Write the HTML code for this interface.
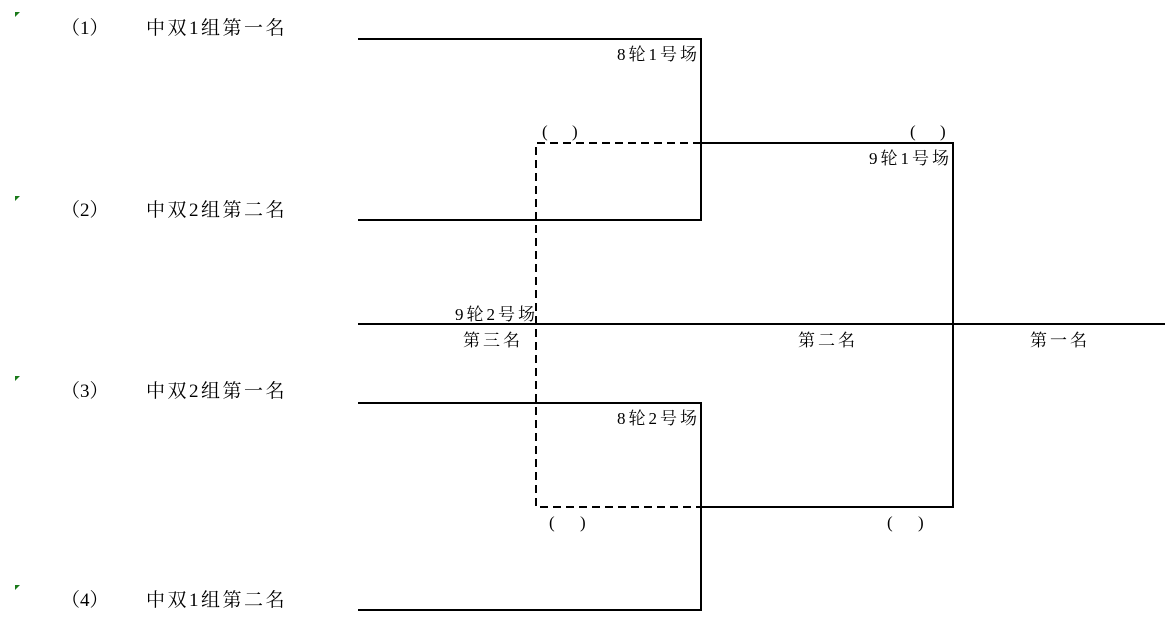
<!DOCTYPE html>
<html><head><meta charset="utf-8"><style>
html,body{margin:0;padding:0;background:#fff;}
svg text{font-family:"Liberation Serif","Noto Serif CJK SC",serif;fill:#000;}
.b{letter-spacing:2.5px;}
.s{letter-spacing:3px;}
</style></head><body>
<svg width="1165" height="624" xmlns="http://www.w3.org/2000/svg">
<g stroke="#000" stroke-width="2" fill="none">
<path d="M358 39H701V220H358"/>
<path d="M701 143H953V507H701"/>
<path d="M358 403H701V610H358"/>
<path d="M358 324H1165"/>
<path d="M701 143H536V507H701" stroke-dasharray="8,5"/>
</g>
<g fill="#1a7a1a">
<path d="M15 12h5l-5 5z"/><path d="M15 196h5l-5 5z"/><path d="M15 376h5l-5 5z"/><path d="M15 585h5l-5 5z"/>
</g>
<g font-size="19">
<text x="61" y="34">（1）</text><text class="b" x="146" y="34">中双1组第一名</text>
<text x="61" y="216">（2）</text><text class="b" x="146" y="216">中双2组第二名</text>
<text x="61" y="397">（3）</text><text class="b" x="146" y="397">中双2组第一名</text>
<text x="61" y="606">（4）</text><text class="b" x="146" y="606">中双1组第二名</text>
</g>
<g font-size="17">
<text class="s" x="700" y="60" text-anchor="end">8轮1号场</text>
<text class="s" x="952" y="164" text-anchor="end">9轮1号场</text>
<text class="s" x="700" y="424" text-anchor="end">8轮2号场</text>
<text class="s" x="455" y="320">9轮2号场</text>
<text class="s" x="463" y="346">第三名</text>
<text class="s" x="798" y="346">第二名</text>
<text class="s" x="1030" y="346">第一名</text>
<text x="542" y="137">(</text><text x="572" y="137">)</text>
<text x="910" y="137">(</text><text x="940" y="137">)</text>
<text x="549" y="528">(</text><text x="580" y="528">)</text>
<text x="887" y="528">(</text><text x="918" y="528">)</text>
</g>
</svg>
</body></html>
